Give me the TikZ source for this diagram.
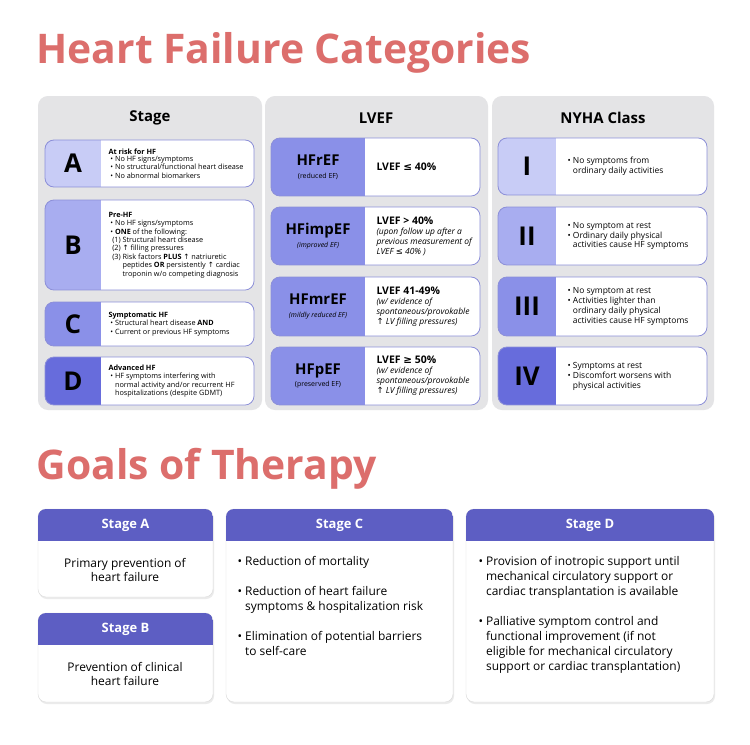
\documentclass[tikz,border=0pt]{standalone}
\usepackage{fontspec}
\setmainfont{Open Sans}
\newfontfamily\symf{DejaVu Sans}
\definecolor{salmon}{HTML}{DC6E6C}
\definecolor{panelgray}{HTML}{E4E4E6}
\definecolor{rowborder}{HTML}{8C8FD8}
\definecolor{lvA}{HTML}{C8CCF6}
\definecolor{lvB}{HTML}{A8ADF0}
\definecolor{lvC}{HTML}{8A90E8}
\definecolor{lvD}{HTML}{676CDC}
\definecolor{hdr}{HTML}{5D5EC3}
\newcommand\upsym{{\symf\char"2191}}
\newcommand\lesym{{\symf\char"2264}}
\newcommand\gesym{{\symf\char"2265}}
\newcommand\bul{\textbullet\ }
% one category row: y1, y2, x-left, x-split, x-right, colour, name
\newcommand\catrow[7]{%
  \begin{scope}
    \clip[rounded corners=9] (#3,#1) rectangle (#5,#2);
    \fill[white] (#3,#1) rectangle (#5,#2);
    \fill[#6] (#3,#1) rectangle (#4,#2);
  \end{scope}
  \draw[rowborder,line width=0.8,rounded corners=9] (#3,#1) rectangle (#5,#2);
  \coordinate (#7-l) at ({(#3+#4)/2},{(#1+#2)/2});
  \coordinate (#7-r) at (#4+8,{(#1+#2)/2});
}
\tikzset{
  panel/.style={fill=panelgray,rounded corners=10},
  bigletter/.style={font=\fontsize{26}{28}\selectfont\bfseries},
  small/.style={anchor=west,align=left,font=\fontsize{7.3}{8.4}\selectfont},
  ef/.style={align=center,font=\fontsize{15}{16}\selectfont\bfseries},
  lvef/.style={anchor=west,align=left,font=\fontsize{8.5}{10}\selectfont},
  goalhdr/.style={fill=hdr,rounded corners=8},
  goaltext/.style={font=\fontsize{12}{15}\selectfont}
}
\begin{document}
\begin{tikzpicture}[x=1bp,y=-1bp]
\useasboundingbox (0,0) rectangle (750,745);
\fill[white] (0,0) rectangle (750,745);
% titles
\node[anchor=west,text=salmon,font=\fontsize{41}{44}\selectfont\bfseries] (title1) at (33,53) {Heart Failure Categories};
\node[anchor=west,text=salmon,font=\fontsize{41}{44}\selectfont\bfseries] (title2) at (33,469) {Goals of Therapy};
% panels
\fill[panel] (38,96) rectangle (262,410);
\fill[panel] (265,96) rectangle (488,410);
\fill[panel] (492,96) rectangle (714,410);
\node[font=\fontsize{15}{16}\selectfont\bfseries] (hstage) at (150,118) {Stage};
\node[font=\fontsize{15}{16}\selectfont\bfseries] (hlvef) at (376,118) {LVEF};
\node[font=\fontsize{15}{16}\selectfont\bfseries] (hnyha) at (603,118) {NYHA Class};
% stage column
\catrow{140}{187}{45}{101}{254}{lvA}{sa}
\catrow{200}{290}{45}{101}{254}{lvB}{sb}
\catrow{302}{346}{45}{101}{254}{lvC}{sc}
\catrow{357}{405}{45}{101}{254}{lvD}{sd}
\node[bigletter] (la) at (sa-l) {A};
\node[bigletter] (lb) at (sb-l) {B};
\node[bigletter] (lc) at (sc-l) {C};
\node[bigletter] (ld) at (sd-l) {D};
\node[small] (ta) at ([xshift=-4]sa-r) {\textbf{At risk for HF}\\[-1pt]
  \ \bul No HF signs/symptoms\\ \ \bul No structural/functional heart disease\\ \ \bul No abnormal biomarkers};
\node[small] (tb) at ([xshift=-4]sb-r) {\textbf{Pre-HF}\\
  \ \bul No HF signs/symptoms\\ \ \bul \textbf{ONE} of the following:\\
  \ \ (1) Structural heart disease\\ \ \ (2) \upsym\ filling pressures\\
  \ \ (3) Risk factors \textbf{PLUS} \upsym\ natriuretic\\
  \ \ \phantom{(3) }peptides \textbf{OR} persistently \upsym\ cardiac\\
  \ \ \phantom{(3) }troponin w/o competing diagnosis};
\node[small] (tc) at ([xshift=-4]sc-r) {\textbf{Symptomatic HF}\\
  \ \bul Structural heart disease \textbf{AND}\\ \ \bul Current or previous HF symptoms};
\node[small] (td) at ([xshift=-4]sd-r) {\textbf{Advanced HF}\\
  \ \bul HF symptoms interfering with\\ \ \phantom{\bul}normal activity and/or recurrent HF\\
  \ \phantom{\bul}hospitalizations (despite GDMT)};
% LVEF column
\catrow{138}{196}{271}{365}{480}{lvC}{ea}
\catrow{207}{265}{271}{365}{480}{lvC}{eb}
\catrow{277}{336}{271}{365}{480}{lvC}{ec}
\catrow{347}{405}{271}{365}{480}{lvC}{ed}
\node[ef] (fa) at (ea-l) {HFrEF\\[-3pt]{\fontsize{7}{8}\selectfont\mdseries (reduced EF)}};
\node[ef] (fb) at (eb-l) {HFimpEF\\[-3pt]{\fontsize{7}{8}\selectfont\mdseries\itshape (improved EF)}};
\node[ef] (fc) at (ec-l) {HFmrEF\\[-3pt]{\fontsize{7}{8}\selectfont\mdseries\itshape (mildly reduced EF)}};
\node[ef] (fd) at (ed-l) {HFpEF\\[-3pt]{\fontsize{7}{8}\selectfont\mdseries (preserved EF)}};
\node[lvef] (va) at (ea-r) {\textbf{\fontsize{10.5}{11}\selectfont LVEF \lesym\ 40\%}};
\node[lvef] (vb) at (eb-r) {\textbf{\fontsize{10.5}{11}\selectfont LVEF > 40\%}\\
  \itshape (upon follow up after a\\ \itshape previous measurement of\\ \itshape LVEF \lesym\ 40\% )};
\node[lvef] (vc) at (ec-r) {\textbf{\fontsize{10.5}{11}\selectfont LVEF 41-49\%}\\
  \itshape (w/ evidence of\\ \itshape spontaneous/provokable\\ \upsym\ \itshape LV filling pressures)};
\node[lvef] (vd) at (ed-r) {\textbf{\fontsize{10.5}{11}\selectfont LVEF \gesym\ 50\%}\\
  \itshape (w/ evidence of\\ \itshape spontaneous/provokable\\ \upsym\ \itshape LV filling pressures)};
% NYHA column
\catrow{138}{195}{498}{556}{707}{lvA}{na}
\catrow{207}{265}{498}{556}{707}{lvB}{nb}
\catrow{277}{336}{498}{556}{707}{lvC}{nc}
\catrow{347}{405}{498}{556}{707}{lvD}{nd}
\node[bigletter] (ka) at (na-l) {I};
\node[bigletter] (kb) at (nb-l) {II};
\node[bigletter] (kc) at (nc-l) {III};
\node[bigletter] (kd) at (nd-l) {IV};
\node[lvef] (ma) at (na-r) {\bul No symptoms from\\ \phantom{\bul}ordinary daily activities};
\node[lvef] (mb) at (nb-r) {\bul No symptom at rest\\ \bul Ordinary daily physical\\ \phantom{\bul}activities cause HF symptoms};
\node[lvef] (mc) at (nc-r) {\bul No symptom at rest\\ \bul Activities lighter than\\ \phantom{\bul}ordinary daily physical\\ \phantom{\bul}activities cause HF symptoms};
\node[lvef] (md) at (nd-r) {\bul Symptoms at rest\\ \bul Discomfort worsens with\\ \phantom{\bul}physical activities};
% goals of therapy
\foreach \xa/\xb/\ya/\yb/\nm in {38/213/509/597/ga,38/213/613/702/gb,226/453/509/702/gc,466/714/509/702/gd}
{
  \fill[black!8,rounded corners=8] (\xa+1,\ya+2) rectangle (\xb+1,\yb+2);
  \fill[white,rounded corners=8] (\xa,\ya) rectangle (\xb,\yb);
  \draw[black!15,rounded corners=8] (\xa,\ya) rectangle (\xb,\yb);
  \begin{scope}
    \clip[rounded corners=8] (\xa,\ya) rectangle (\xb,\yb);
    \fill[hdr] (\xa,\ya) rectangle (\xb,\ya+32);
  \end{scope}
  \coordinate (\nm-h) at ({(\xa+\xb)/2},\ya+16);
}
\node[text=white,font=\fontsize{13}{14}\selectfont\bfseries] (sga) at (ga-h) {Stage A};
\node[text=white,font=\fontsize{13}{14}\selectfont\bfseries] (sgb) at (gb-h) {Stage B};
\node[text=white,font=\fontsize{13}{14}\selectfont\bfseries] (sgc) at (gc-h) {Stage C};
\node[text=white,font=\fontsize{13}{14}\selectfont\bfseries] (sgd) at (gd-h) {Stage D};
\node[goaltext,align=center] (xa) at (125,570) {Primary prevention of\\heart failure};
\node[goaltext,align=center] (xb) at (125,674) {Prevention of clinical\\heart failure};
\node[goaltext,align=left,anchor=north west] (xc) at (234,553) {\bul Reduction of mortality\\[15pt]
  \bul Reduction of heart failure\\ \phantom{\bul}symptoms \& hospitalization risk\\[15pt]
  \bul Elimination of potential barriers\\ \phantom{\bul}to self-care};
\node[goaltext,align=left,anchor=north west] (xd) at (475,553) {\bul Provision of inotropic support until\\
  \phantom{\bul}mechanical circulatory support or\\ \phantom{\bul}cardiac transplantation is available\\[15pt]
  \bul Palliative symptom control and\\ \phantom{\bul}functional improvement (if not\\
  \phantom{\bul}eligible for mechanical circulatory\\ \phantom{\bul}support or cardiac transplantation)};
\end{tikzpicture}
\end{document}
